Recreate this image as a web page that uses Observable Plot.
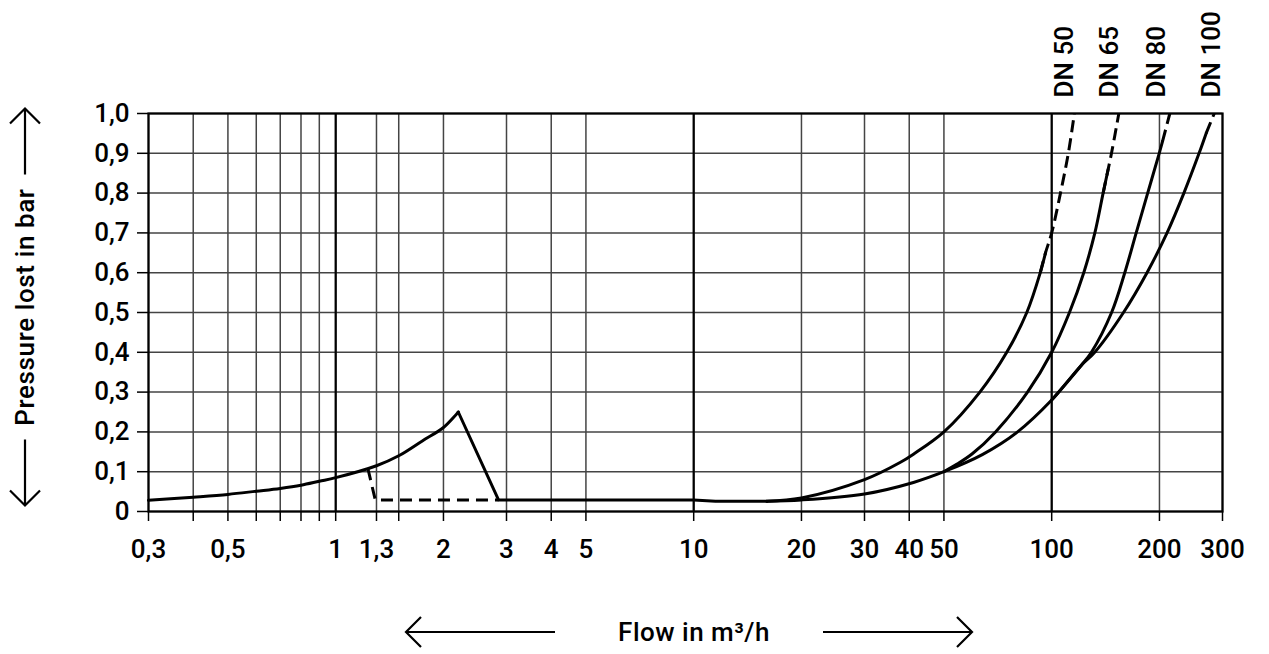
<!DOCTYPE html>
<html>
<head>
<meta charset="utf-8">
<script src="https://cdn.jsdelivr.net/npm/d3@7"></script>
<script src="https://cdn.jsdelivr.net/npm/@observablehq/plot@0.6"></script>
<style>
  body { margin: 0; background: #fff; }
  #wrap { position: relative; width: 1269px; height: 654px; font-family: Roboto, "Noto Sans", sans-serif; font-weight: 500; color: #000; }
  #ylab { position: absolute; left: 25px; top: 307px; transform: translate(-50%, -50%) rotate(-90deg); display: flex; align-items: center; white-space: nowrap; font-size: 26px; letter-spacing: 0.6px; }
  #xlab { position: absolute; left: 405px; top: 632px; transform: translateY(-50%); display: flex; align-items: center; white-space: nowrap; font-size: 26px; letter-spacing: 0.5px; }
  .arrow { display: block; overflow: visible; }
  .ttl { display: block; text-align: center; }
</style>
</head>
<body>
<div id="wrap">
  <div id="chart"></div>
  <div id="ylab"></div>
  <div id="xlab"></div>
</div>
<script>
// ---- axis data ----
const xGrid = [0.3, 0.4, 0.5, 0.6, 0.7, 0.8, 0.9, 1, 1.3, 1.5, 2, 3, 4, 5, 10, 20, 30, 40, 50, 100, 200, 300];
const xMajor = [1, 10, 100];
const xTickValues = [0.3, 0.5, 1, 1.3, 2, 3, 4, 5, 10, 20, 30, 40, 50, 100, 200, 300];
const xTickLabels = ["0,3", "0,5", "1", "1,3", "2", "3", "4", "5", "10", "20", "30", "40", "50", "100", "200", "300"];
const yTickValues = [0, 0.1, 0.2, 0.3, 0.4, 0.5, 0.6, 0.7, 0.8, 0.9, 1.0];
const yTickLabels = ["0", "0,1", "0,2", "0,3", "0,4", "0,5", "0,6", "0,7", "0,8", "0,9", "1,0"];

// ---- curve data (flow m³/h, pressure loss bar) ----
const valveFlow = [0.3, 0.4, 0.5, 0.6, 0.7, 0.8, 0.9, 1, 1.3, 1.5, 1.75, 2, 2.2];
const valveLoss = [0.028, 0.036, 0.043, 0.051, 0.058, 0.066, 0.076, 0.085, 0.115, 0.14, 0.178, 0.211, 0.25];

const closeFlow = [2.2, 2.85, 10, 11.5, 16];
const closeLoss = [0.25, 0.029, 0.029, 0.026, 0.026];

const bypassFlow = [1.23, 1.29, 2.85];
const bypassLoss = [0.108, 0.029, 0.029];

const dn50Flow = [16, 20, 30, 37.7, 41.1, 50, 63, 74.9, 85.2, 92.9, 96.1];
const dn50Loss = [0.026, 0.034, 0.08, 0.123, 0.144, 0.2, 0.3, 0.4, 0.5, 0.6, 0.65];
const dn50DashFlow = [92.9, 96.1, 100, 105.8, 111.3, 115.7];
const dn50DashLoss = [0.6, 0.65, 0.7, 0.8, 0.9, 1.0];

const dn65Flow = [50, 54.4, 60, 69.7, 85.6, 100, 112.1, 122.9, 132, 139.2, 143.8];
const dn65Loss = [0.1, 0.119, 0.145, 0.2, 0.3, 0.4, 0.5, 0.6, 0.7, 0.8, 0.86];
const dn65DashFlow = [139.2, 143.8, 146.9, 154];
const dn65DashLoss = [0.8, 0.86, 0.9, 1.0];

const dn80Flow = [100, 120.9, 129.1, 147, 160, 172.2, 185.4, 199.7, 204];
const dn80Loss = [0.28, 0.367, 0.4, 0.5, 0.6, 0.7, 0.8, 0.9, 0.93];
const dn80DashFlow = [204, 213.8];
const dn80DashLoss = [0.93, 1.0];

const dn100Flow = [16, 20, 30, 41.1, 50, 64, 80.3, 100, 120.9, 131.9, 158.7, 184.6, 210, 234, 258, 270];
const dn100Loss = [0.026, 0.029, 0.044, 0.073, 0.1, 0.143, 0.2, 0.28, 0.367, 0.4, 0.5, 0.6, 0.7, 0.8, 0.9, 0.95];
const dn100DashFlow = [270, 284.5];
const dn100DashLoss = [0.95, 1.0];

const dnNames = ["DN 50", "DN 65", "DN 80", "DN 100"];
const dnLabelFlow = [108, 144, 195, 278];

// ---- build ----
const rows = (f, l) => f.map((v, i) => ({flow: v, loss: l[i]}));
const segments = [
  {data: rows(valveFlow, valveLoss), curve: "catmull-rom", dash: null},
  {data: rows(closeFlow, closeLoss), curve: "linear", dash: null},
  {data: rows(bypassFlow, bypassLoss), curve: "linear", dash: "12,7"},
  {data: rows(dn50Flow, dn50Loss), curve: "catmull-rom", dash: null},
  {data: rows(dn50DashFlow, dn50DashLoss), curve: "catmull-rom", dash: "12,6"},
  {data: rows(dn65Flow, dn65Loss), curve: "catmull-rom", dash: null},
  {data: rows(dn65DashFlow, dn65DashLoss), curve: "catmull-rom", dash: "12,6"},
  {data: rows(dn80Flow, dn80Loss), curve: "catmull-rom", dash: null},
  {data: rows(dn80DashFlow, dn80DashLoss), curve: "linear", dash: "12,6"},
  {data: rows(dn100Flow, dn100Loss), curve: "catmull-rom", dash: null},
  {data: rows(dn100DashFlow, dn100DashLoss), curve: "linear", dash: "12,6"}
];

const yLabelOf = d => { const i = yTickValues.findIndex(v => Math.abs(v - d) < 1e-9); return i < 0 ? "" : yTickLabels[i]; };
const FONT = 'Roboto, "Noto Sans", sans-serif';

const chart = Plot.plot({
  width: 1269,
  height: 590,
  marginLeft: 148,
  marginRight: 47,
  marginTop: 113,
  marginBottom: 79,
  style: {fontFamily: FONT, fontSize: "26px", fontWeight: 500, color: "#000", background: "#fff", overflow: "visible"},
  x: {type: "log", domain: [0.3, 300]},
  y: {domain: [0, 1]},
  marks: [
    Plot.ruleX(xGrid, {stroke: "#444", strokeWidth: 1.5}),
    Plot.ruleY(yTickValues, {stroke: "#444", strokeWidth: 1.5}),
    Plot.ruleX(xMajor, {stroke: "#000", strokeWidth: 2.2}),
    Plot.frame({stroke: "#000", strokeWidth: 2.2}),
    ...segments.map(s => Plot.line(s.data, {
      x: "flow", y: "loss", curve: s.curve, stroke: "#000", strokeWidth: 3,
      strokeDasharray: s.dash, strokeLinejoin: "round", strokeLinecap: s.dash ? "butt" : "round"
    })),
    Plot.axisX({ticks: xGrid, tickFormat: () => "", tickSize: 10, strokeWidth: 1.5, label: null}),
    Plot.text(xTickValues, {x: d => d, text: (d, i) => xTickLabels[i], frameAnchor: "bottom", lineAnchor: "top", dy: 28, fill: "#000"}),
    Plot.axisY({ticks: yTickValues, tickFormat: yLabelOf, tickSize: 11, tickPadding: 8, strokeWidth: 1.5, label: null}),
    Plot.text(dnNames, {x: dnLabelFlow, frameAnchor: "top", rotate: -90, textAnchor: "start", dy: -16, dx: -9, fill: "#000"})
  ]
});
document.getElementById("chart").appendChild(chart);

// ---- axis titles with arrows ----
function arrow(len, dir) {
  const h = 32, m = h / 2, head = 15;
  const ns = "http://www.w3.org/2000/svg";
  const s = document.createElementNS(ns, "svg");
  s.setAttribute("width", len); s.setAttribute("height", h); s.setAttribute("class", "arrow");
  const p = document.createElementNS(ns, "path");
  const d = dir === "left"
    ? `M1,${m}H${len}M${1 + head},${m - head}L1,${m}L${1 + head},${m + head}`
    : `M0,${m}H${len - 1}M${len - 1 - head},${m - head}L${len - 1},${m}L${len - 1 - head},${m + head}`;
  p.setAttribute("d", d); p.setAttribute("fill", "none"); p.setAttribute("stroke", "#000"); p.setAttribute("stroke-width", "2.2");
  s.appendChild(p);
  return s;
}
function titled(el, text, lenA, boxWidth, shift, lenB) {
  const a = arrow(lenA, "left");
  const t = document.createElement("span"); t.className = "ttl"; t.textContent = text;
  t.style.width = boxWidth + "px"; t.style.paddingLeft = Math.max(0, shift) + "px"; t.style.paddingRight = Math.max(0, -shift) + "px"; t.style.boxSizing = "border-box";
  const b = arrow(lenB, "right");
  el.append(a, t, b);
}
titled(document.getElementById("ylab"), "Pressure lost in bar", 67, 265, 0, 67);
titled(document.getElementById("xlab"), "Flow in m³/h", 150, 268, 10, 150);
</script>
</body>
</html>
